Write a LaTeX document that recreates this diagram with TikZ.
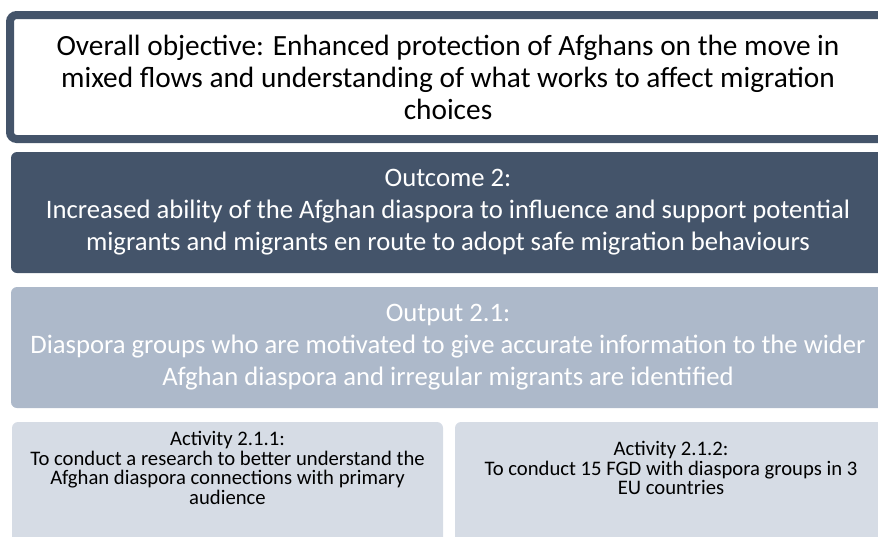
\documentclass[tikz,border=0pt]{standalone}
\usepackage{fontspec}
\setmainfont{Carlito}
\usepackage{xcolor}
\usepackage{tikz}
\usetikzlibrary{positioning}
\definecolor{slate}{HTML}{44546A}
\definecolor{outputblue}{HTML}{ADB9CA}
\definecolor{actblue}{HTML}{D6DCE5}

\begin{document}
\begin{tikzpicture}[x=0.75pt, y=-0.75pt,
      goalframe/.style={draw=slate, line width=6pt, fill=white, rounded corners=5pt},
      bandbox/.style={rounded corners=4.5pt},
      goaltext/.style={align=center, font=\fontsize{22}{24}\selectfont},
      bandtext/.style={align=center, text=white, font=\fontsize{20}{24}\selectfont},
      acttext/.style={align=center, text=black, font=\fontsize{15.5}{14.8}\selectfont}
    ]
    \useasboundingbox (0,0) rectangle (878,536);
    \clip (0,0) rectangle (878,536);
    \def\xC{448} \def\xR{900}

    % frames, running off the right edge
    \draw[goalframe] (10,15) rectangle (\xR,139);
    \fill[bandbox, slate] (11,152) rectangle (\xR,273);
    \fill[bandbox, outputblue] (11,287) rectangle (\xR,408);
    \fill[bandbox, actblue] (12,422) rectangle (443,570);
    \fill[bandbox, actblue] (455,422) rectangle (\xR,570);

    % Objective
    \node[goaltext] (goal) at (\xC,77) {%
      Overall objective: Enhanced protection of Afghans on the move in\\
      mixed flows and understanding of what works to affect migration\\
      choices};

    % Outcome and output
    \node[bandtext] (outcome) at (\xC,212.5) {%
      Outcome 2:\\
      Increased ability of the Afghan diaspora to influence and support potential\\
      migrants and migrants en route to adopt safe migration behaviours};
    \node[bandtext] (output) at (\xC,347.5) {%
      Output 2.1:\\
      Diaspora groups who are motivated to give accurate information to the wider\\
      Afghan diaspora and irregular migrants are identified};

    % Activities
    \node[acttext] (act1) at (227.5,468) {%
      Activity 2.1.1:\\
      To conduct a research to better understand the\\
      Afghan diaspora connections with primary\\
      audience};
    \node[acttext] (act2) at (671,468) {%
      Activity 2.1.2:\\
      To conduct 15 FGD with diaspora groups in 3\\
      EU countries};
\end{tikzpicture}
\end{document}
